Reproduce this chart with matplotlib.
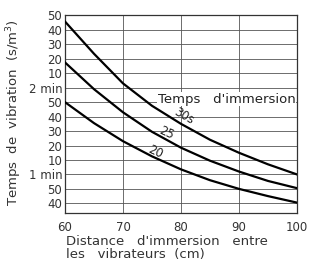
import matplotlib.pyplot as plt

# distances d'immersion (cm)
distance = [60, 65, 70, 75, 80, 85, 90, 95, 100]

# temps de vibration (s/m3) pour chaque temps d'immersion
t_30s = [165.8, 143.5, 123, 107.5, 95, 84, 75, 67, 60]
t_25s = [137.5, 119, 103, 89.5, 78.5, 69.5, 62, 55.5, 50.5]
t_20s = [110, 95.5, 83, 72.5, 63.5, 56, 50, 45, 40.5]

y_ticks = list(range(40, 171, 10))
y_labels = ['40', '50', '1 min', '10', '20', '30', '40', '50',
            '2 min', '10', '20', '30', '40', '50']
x_ticks = [60, 70, 80, 90, 100]

plt.rcParams['font.family'] = ['DejaVu Sans']

fig = plt.figure(figsize=(3.21, 2.62), dpi=100)
ax = fig.add_axes([0.2025, 0.187, 0.7225, 0.754])

for serie in (t_30s, t_25s, t_20s):
    ax.plot(distance, serie, color='black', lw=1.6, solid_joinstyle='round',
            zorder=5)

ax.set_xlim(60, 100)
ax.set_ylim(33.3, 170)
ax.set_xticks(x_ticks)
ax.set_yticks(y_ticks)
ax.set_yticklabels(y_labels)
ax.tick_params(length=0, labelsize=8.5, colors='#333333')
ax.tick_params(axis='y', pad=2)
ax.tick_params(axis='x', pad=6)
ax.grid(True, color='#555555', lw=0.6)
ax.set_axisbelow(True)
for s in ax.spines.values():
    s.set_linewidth(0.9)
    s.set_color('#333333')

# étiquettes des courbes
ax.text(80.6, 100.5, '30s', fontsize=8.5, rotation=-30, ha='center',
        va='center', color='#222222', zorder=6)
ax.text(77.5, 88.5, '25', fontsize=8.5, rotation=-25, ha='center',
        va='center', color='#222222', zorder=6)
ax.text(75.5, 75.5, '20', fontsize=8.5, rotation=-25, ha='center',
        va='center', color='#222222', zorder=6)
ax.text(99.8, 112, "Temps   d'immersion", fontsize=9.5, ha='right',
        va='center', color='#222222', zorder=3,
        bbox=dict(facecolor='white', edgecolor='none', pad=0.5))

ax.set_ylabel('Temps  de  vibration  (s/m$^3$)', fontsize=9.5,
              color='#333333')
ax.yaxis.set_label_coords(-0.175, 0.51)

fig.text(0.207, 0.066, "Distance   d'immersion   entre", fontsize=9.5,
         ha='left', va='baseline', color='#333333')
fig.text(0.207, 0.014, "les   vibrateurs  (cm)", fontsize=9.5,
         ha='left', va='baseline', color='#333333')

fig.savefig('out.png', dpi=100)
